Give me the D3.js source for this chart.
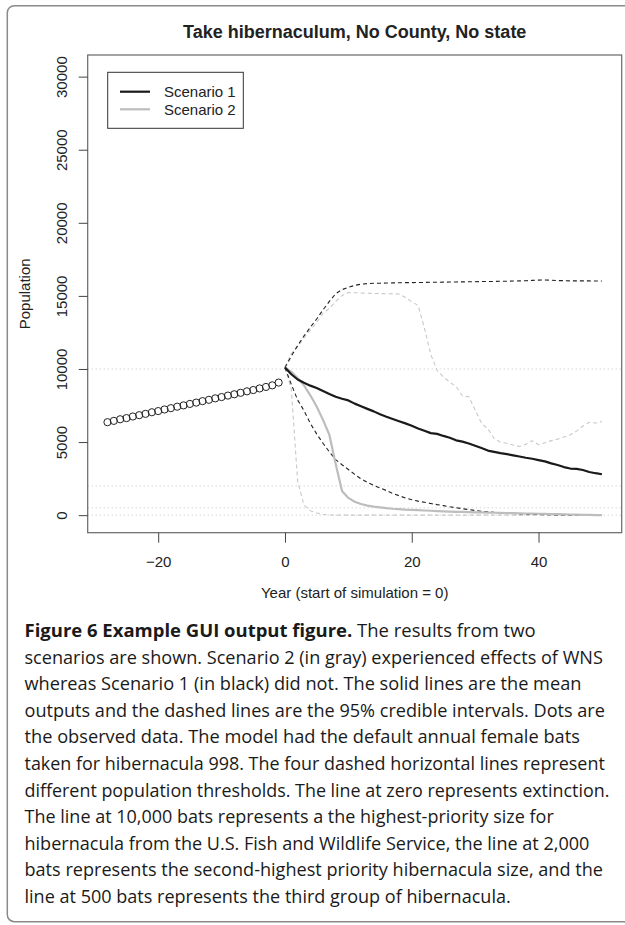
<!DOCTYPE html>
<html>
<head>
<meta charset="utf-8">
<script src="https://cdn.jsdelivr.net/npm/d3@7"></script>
<style>
  body { margin: 0; background: #fff; }
  text { font-family: "Liberation Sans", Arial, sans-serif; }
  .cap { font-family: "Open Sans", "Noto Sans", sans-serif; }
</style>
</head>
<body>
<div id="chart"></div>
<script>
// observed data, years -28 .. -1
var obsYears = [-28,-27,-26,-25,-24,-23,-22,-21,-20,-19,-18,-17,-16,-15,-14,-13,-12,-11,-10,-9,-8,-7,-6,-5,-4,-3,-2,-1];
var obsPop = [6360,6450,6560,6640,6750,6840,6930,7040,7120,7230,7320,7420,7510,7610,7700,7800,7890,7990,8080,8180,8270,8370,8470,8560,8670,8770,8880,9070];

// simulation years 0 .. 50
var simYears = [0,1,2,3,4,5,6,7,8,9,10,11,12,13,14,15,16,17,18,19,20,21,22,23,24,25,26,27,28,29,30,31,32,33,34,35,36,37,38,39,40,41,42,43,44,45,46,47,48,49,50];

// Scenario 1 (no WNS)
var s1Mean = [10100,9640,9280,9060,8860,8700,8500,8290,8100,7960,7850,7630,7450,7270,7100,6900,6730,6580,6430,6280,6120,5930,5770,5610,5560,5420,5300,5120,5030,4900,4750,4590,4420,4330,4240,4180,4090,4010,3930,3860,3770,3680,3540,3430,3290,3190,3170,3090,2950,2870,2800];
var s1Upper = [10100,10880,11600,12260,12850,13420,14040,14620,15150,15430,15580,15720,15800,15840,15860,15870,15880,15890,15900,15905,15910,15915,15920,15930,15935,15940,15950,15955,15960,15965,15970,15980,15985,15990,16000,16005,16015,16025,16040,16060,16080,16090,16070,16050,16040,16030,16030,16025,16025,16020,16020];
var s1Lower = [10100,8950,7880,7150,6280,5560,4920,4330,3800,3450,3120,2790,2480,2250,2040,1860,1680,1480,1330,1180,1060,960,880,800,720,650,570,510,440,380,320,270,230,190,160,130,110,90,70,55,45,35,25,20,15,10,8,5,3,2,0];

// Scenario 2 (WNS)
var s2Mean = [10100,9800,9380,8880,8200,7430,6520,5500,3500,1650,1180,920,760,650,580,530,480,440,410,380,360,340,320,300,280,260,245,230,220,205,195,185,175,165,155,145,135,125,115,105,95,85,75,65,55,45,35,25,15,8,0];
var s2Upper = [10100,11050,11550,12130,12650,13180,13800,14150,14620,15020,15230,15220,15200,15180,15170,15160,15150,15140,15130,14900,14600,14350,12800,11000,9900,9450,9100,8800,8150,8100,7200,6300,5900,5250,4980,4920,4800,4700,4850,5100,4820,4950,5100,5200,5350,5500,5750,6100,6350,6300,6400];
var s2Lower = [10100,8620,2300,700,300,150,60,15,0,0,0,0,0,0,0,0,0,0,0,0,0,0,0,0,0,0,0,0,0,0,0,0,0,0,0,0,0,0,0,0,0,0,0,0,0,0,0,0,0,0,0];

var thresholds = [0, 500, 2000, 10000];
var xTicks = [-20, 0, 20, 40];
var yTicks = [0, 5000, 10000, 15000, 20000, 25000, 30000];
var legendNames = ["Scenario 1", "Scenario 2"];
var legendColors = ["#1a1a1a", "#bdbdbd"];

var captionBold = "Figure 6 Example GUI output figure.";
var captionLines = [
  " The results from two",
  "scenarios are shown. Scenario 2 (in gray) experienced effects of WNS",
  "whereas Scenario 1 (in black) did not. The solid lines are the mean",
  "outputs and the dashed lines are the 95% credible intervals. Dots are",
  "the observed data. The model had the default annual female bats",
  "taken for hibernacula 998. The four dashed horizontal lines represent",
  "different population thresholds. The line at zero represents extinction.",
  "The line at 10,000 bats represents a the highest-priority size for",
  "hibernacula from the U.S. Fish and Wildlife Service, the line at 2,000",
  "bats represents the second-highest priority hibernacula size, and the",
  "line at 500 bats represents the third group of hibernacula."
];
var captionEnds = [536, 603, 582, 605, 580, 605, 610, 554, 590, 603, 511];

var W = 625, H = 925;
var plot = {left: 87.7, right: 621.7, top: 55, bottom: 532.7};

var svg = d3.select("#chart").append("svg").attr("width", W).attr("height", H);
svg.append("rect").attr("width", W).attr("height", H).attr("fill", "#fff");

// outer caption frame
svg.append("rect").attr("x", 7.3).attr("y", 5.7).attr("width", 640).attr("height", 916)
  .attr("rx", 7).attr("fill", "none").attr("stroke", "#8a8a8a").attr("stroke-width", 1.5);

var x = d3.scaleLinear().domain([-31.12, 53.12]).range([plot.left, plot.right]);
var y = d3.scaleLinear().domain([-1200, 31480]).range([plot.bottom, plot.top]);

////////////////////////////////////// thresholds
svg.append("g").selectAll("line").data(thresholds).join("line")
  .attr("x1", plot.left).attr("x2", plot.right)
  .attr("y1", d => y(d)).attr("y2", d => y(d))
  .attr("stroke", "#c4c4c4").attr("stroke-width", 1).attr("stroke-dasharray", "1,3");

////////////////////////////////////// lines
var line = d3.line().x((d, i) => x(simYears[i])).y(d => y(d));
function drawLine(vals, color, width, dash) {
  svg.append("path").datum(vals).attr("d", line)
    .attr("fill", "none").attr("stroke", color).attr("stroke-width", width)
    .attr("stroke-dasharray", dash).attr("stroke-linejoin", "round");
}
drawLine(s2Upper, "#c8c8c8", 1.1, "4,3");
drawLine(s2Lower, "#c8c8c8", 1.1, "4,3");
drawLine(s1Upper, "#222", 1.1, "4,3");
drawLine(s1Lower, "#222", 1.1, "4,3");
drawLine(s2Mean, "#bdbdbd", 2.2, null);
drawLine(s1Mean, "#1a1a1a", 2.2, null);

////////////////////////////////////// observed dots
svg.append("g").selectAll("circle").data(obsPop).join("circle")
  .attr("cx", (d, i) => x(obsYears[i])).attr("cy", d => y(d)).attr("r", 3.6)
  .attr("fill", "none").attr("stroke", "#222").attr("stroke-width", 1);

////////////////////////////////////// box + axes
svg.append("rect").attr("x", plot.left).attr("y", plot.top)
  .attr("width", plot.right - plot.left).attr("height", plot.bottom - plot.top)
  .attr("fill", "none").attr("stroke", "#666").attr("stroke-width", 1.2);

var xAxis = svg.append("g").attr("transform", `translate(0, ${plot.bottom})`)
  .call(d3.axisBottom(x).tickValues(xTicks).tickSize(10).tickPadding(13.5).tickFormat(d => d < 0 ? "\u2212" + Math.abs(d) : d));
var yAxis = svg.append("g").attr("transform", `translate(${plot.left}, 0)`)
  .call(d3.axisLeft(y).tickValues(yTicks).tickSize(9).tickFormat(d3.format("d")));
[xAxis, yAxis].forEach(function(a) {
  a.select(".domain").remove();
  a.selectAll(".tick line").attr("stroke", "#444");
  a.selectAll(".tick text").attr("fill", "#222").style("font-size", "15px").style("font-family", "Liberation Sans, Arial, sans-serif");
});
yAxis.selectAll(".tick text").attr("x", null).attr("dy", null)
  .attr("text-anchor", "middle").attr("transform", "translate(-21,0) rotate(-90)");

// axis titles
svg.append("g").attr("transform", "translate(29.5, " + (plot.top + plot.bottom) / 2 + ")")
  .append("text").attr("text-anchor", "middle").attr("transform", "rotate(-90)")
  .style("fill", "#222").style("font-size", "15px").text("Population");
svg.append("text").attr("x", (plot.left + plot.right) / 2).attr("y", 598).attr("text-anchor", "middle")
  .style("fill", "#222").style("font-size", "15px").text("Year (start of simulation = 0)");
svg.append("text").attr("x", (plot.left + plot.right) / 2).attr("y", 38).attr("text-anchor", "middle")
  .style("fill", "#222").style("font-size", "18px").style("font-weight", "bold")
  .text("Take hibernaculum, No County, No state");

////////////////////////////////////// legend
var leg = svg.append("g");
leg.append("rect").attr("x", 107.7).attr("y", 72.3).attr("width", 135.6).attr("height", 56)
  .attr("fill", "#fff").attr("stroke", "#333").attr("stroke-width", 1);
legendNames.forEach(function(name, i) {
  var ly = 91.7 + i * 17.6;
  leg.append("line").attr("x1", 120).attr("x2", 150).attr("y1", ly).attr("y2", ly)
    .attr("stroke", legendColors[i]).attr("stroke-width", 2.2);
  leg.append("text").attr("x", 164).attr("y", ly + 5.3).style("font-size", "15px").style("fill", "#222").text(name);
});

////////////////////////////////////// caption
// each line squeezed horizontally so it ends where the printed line ends
captionLines.forEach(function(txt, i) {
  var t = svg.append("text").attr("class", "cap").attr("x", 0).attr("y", 0)
    .style("font-size", "18.5px").style("fill", "#1a1a1a");
  if (i == 0) {
    t.append("tspan").style("font-weight", "bold").text(captionBold);
  }
  t.append("tspan").text(txt);
  var natural = t.node().getComputedTextLength();
  var sx = (captionEnds[i] - 24.5) / natural;
  t.attr("transform", `translate(24.5, ${637 + i * 26.6}) scale(${sx}, 1)`);
});
</script>
</body>
</html>
